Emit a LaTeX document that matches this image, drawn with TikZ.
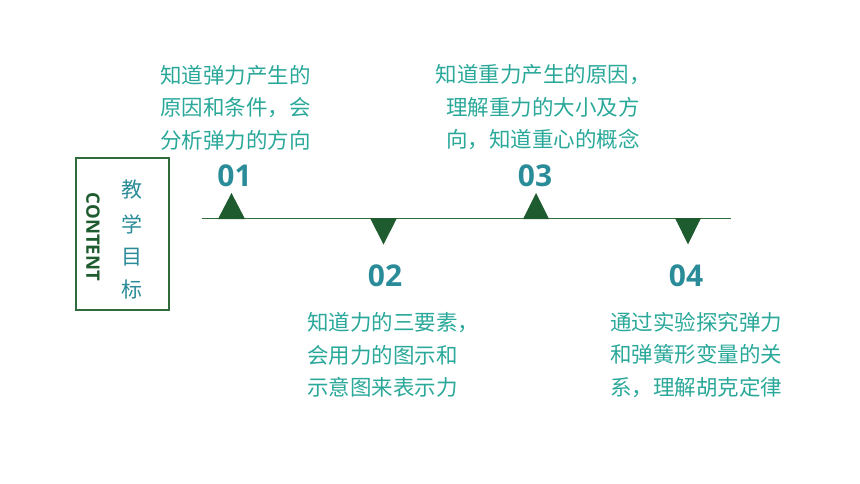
\documentclass[tikz,border=0pt]{standalone}
\usepackage{fontspec}
\setmainfont{Open Sans}
\newfontfamily\cjk{Noto Sans CJK SC}
\newfontfamily\cjklight{Noto Sans CJK SC Light}
\newfontfamily\numfont{Open Sans Bold}
\definecolor{bodytxt}{HTML}{2AA89A}
\definecolor{numtxt}{HTML}{2A8C99}
\definecolor{dgreen}{HTML}{1E5B2E}
\definecolor{linegreen}{HTML}{2F6B3B}
\begin{document}
\begin{tikzpicture}[x=1pt,y=-1pt,
  body/.style={inner sep=0pt,text=bodytxt,font=\cjk\fontsize{21.5}{32.5}\selectfont},
  num/.style={inner sep=0pt,text=numtxt,font=\numfont\fontsize{30}{30}\selectfont},
  tri/.style={fill=dgreen,draw=none},
  vchar/.style={inner sep=0pt,text=numtxt,font=\cjk\fontsize{21}{21}\selectfont}]
\useasboundingbox (0,0) rectangle (860,484);
% content box
\node[draw=linegreen,line width=1.6pt,minimum width=93pt,minimum height=152pt,inner sep=0pt] (box) at (122.5,234) {};
\node[rotate=-90,inner sep=0pt,text=dgreen,font=\numfont\fontsize{18.5}{18.5}\selectfont] (content) at (93,237) {CONTENT};
\node[vchar] (c1) at (132,190) {教};
\node[vchar] (c2) at (132,224) {学};
\node[vchar] (c3) at (132,257) {目};
\node[vchar] (c4) at (132,290) {标};
% timeline
\coordinate (ls) at (202,218.5);
\coordinate (le) at (731,218.5);
\draw[linegreen,line width=1.6pt] (ls) -- (le);
% triangles
\fill[tri] (218,219) -- (231.5,193) -- (245,219) -- cycle;
\fill[tri] (370,218) -- (383.5,244.5) -- (397,218) -- cycle;
\fill[tri] (523,219) -- (536,193) -- (549,219) -- cycle;
\fill[tri] (675,218) -- (688,244.5) -- (701,218) -- cycle;
% numbers
\node[num] (n1) at (234.5,176) {01};
\node[num] (n2) at (385,276) {02};
\node[num] (n3) at (535,176) {03};
\node[num] (n4) at (686,276) {04};
% texts
\node[body,anchor=west,align=left] (t1) at (160,107.5) {知道弹力产生的\\原因和条件，会\\分析弹力的方向};
\node[body,align=center] (t3) at (543,107.5) {知道重力产生的原因，\\理解重力的大小及方\\向，知道重心的概念};
\node[body,anchor=west,align=left] (t2) at (307,355) {知道力的三要素，\\会用力的图示和\\示意图来表示力};
\node[body,anchor=west,align=left] (t4) at (610,355) {通过实验探究弹力\\和弹簧形变量的关\\系，理解胡克定律};
\end{tikzpicture}
\end{document}
